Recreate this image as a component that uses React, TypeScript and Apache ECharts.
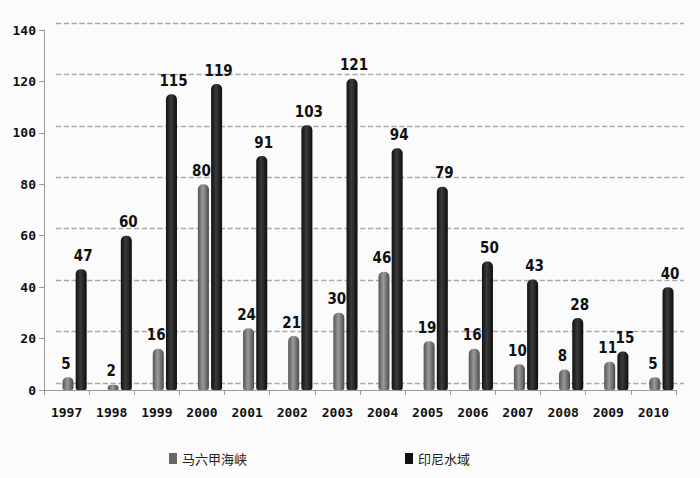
import React, { useEffect, useRef } from "react";
import * as echarts from "echarts";

const years = ["1997", "1998", "1999", "2000", "2001", "2002", "2003", "2004", "2005", "2006", "2007", "2008", "2009", "2010"];
const malacca = [5, 2, 16, 80, 24, 21, 30, 46, 19, 16, 10, 8, 11, 5];
const indonesia = [47, 60, 115, 119, 91, 103, 121, 94, 79, 50, 43, 28, 15, 40];
const seriesNames = ["马六甲海峡", "印尼水域"];

const grayGrad = new echarts.graphic.LinearGradient(0, 0, 1, 0, [
  { offset: 0, color: "#555" },
  { offset: 0.45, color: "#9a9a9a" },
  { offset: 1, color: "#4a4a4a" },
]);
const darkGrad = new echarts.graphic.LinearGradient(0, 0, 1, 0, [
  { offset: 0, color: "#111" },
  { offset: 0.45, color: "#3a3a3a" },
  { offset: 1, color: "#0d0d0d" },
]);

export default function App() {
  const ref = useRef<HTMLDivElement>(null);
  useEffect(() => {
    const chart = echarts.init(ref.current!, null, { renderer: "svg" });
    const labelStyle = {
      show: true,
      position: "top" as const,
      distance: 6,
      color: "#111",
      fontWeight: "bold" as const,
      fontSize: 15,
      fontFamily: "'Liberation Sans Narrow', 'DejaVu Sans Condensed', 'DejaVu Sans'",
    };
    const axisText = {
      color: "#111",
      fontSize: 13,
      fontWeight: "bold" as const,
      fontFamily: "DejaVu Sans Mono",
    };
    chart.setOption({
      animation: false,
      backgroundColor: "#fbfbfb",
      grid: [
        { left: 44, right: 24, top: 30, bottom: 88 },
        { left: 56, right: 16, top: 23, bottom: 95 },
        { left: 52, right: 16, top: 30, bottom: 88 },
      ],
      legend: {
        bottom: 8,
        left: 164,
        itemGap: 158,
        itemWidth: 8,
        itemHeight: 11,
        textStyle: { fontSize: 13, color: "#222", fontFamily: "Noto Sans CJK SC" },
        data: [
          { name: seriesNames[0], icon: "rect", itemStyle: { color: "#666" } },
          { name: seriesNames[1], icon: "rect", itemStyle: { color: "#111" } },
        ],
      },
      xAxis: [
        {
          gridIndex: 0,
          type: "category",
          data: years,
          axisLine: { lineStyle: { color: "#999" } },
          axisTick: { show: true, lineStyle: { color: "#999" } },
          axisLabel: { margin: 16, ...axisText },
        },
        { gridIndex: 1, type: "category", data: years, show: false },
        { gridIndex: 2, type: "category", data: years, show: false },
      ],
      yAxis: [
        {
          gridIndex: 0,
          type: "value",
          min: 0,
          max: 140,
          interval: 20,
          axisLine: { show: true, lineStyle: { color: "#999" } },
          axisTick: { show: true, lineStyle: { color: "#999" } },
          splitLine: { show: false },
          axisLabel: { margin: 8, ...axisText },
        },
        {
          gridIndex: 1,
          type: "value",
          min: 0,
          max: 140,
          interval: 20,
          axisLine: { show: false },
          axisTick: { show: false },
          axisLabel: { show: false },
          splitLine: { lineStyle: { color: "#aaa", type: "dashed", width: 1.3 } },
        },
        {
          gridIndex: 2,
          type: "value",
          min: 0,
          max: 140,
          interval: 20,
          show: false,
          splitLine: { show: false },
        },
      ],
      series: [
        {
          name: seriesNames[0],
          type: "bar",
          xAxisIndex: 2,
          yAxisIndex: 2,
          data: malacca,
          barWidth: 11,
          barGap: "20%",
          itemStyle: { color: grayGrad, borderRadius: [5, 5, 2, 2] },
          label: { ...labelStyle, offset: [-2, 0] },
        },
        {
          name: seriesNames[1],
          type: "bar",
          xAxisIndex: 2,
          yAxisIndex: 2,
          data: indonesia,
          barWidth: 11,
          itemStyle: { color: darkGrad, borderRadius: [5, 5, 2, 2] },
          label: { ...labelStyle, offset: [2, 0] },
        },
      ],
    });
    return () => chart.dispose();
  }, []);
  return (
    <div
      ref={ref}
      style={{ position: "absolute", left: 0, top: 0, width: 700, height: 478 }}
    />
  );
}
